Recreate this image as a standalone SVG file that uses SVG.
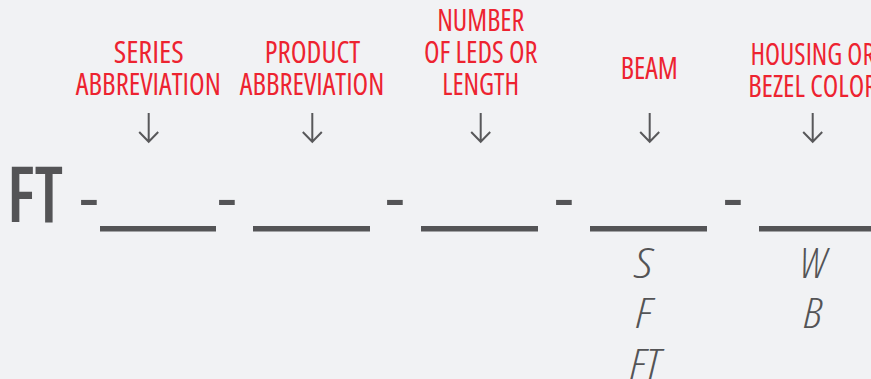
<svg xmlns="http://www.w3.org/2000/svg" width="871" height="379" viewBox="0 0 871 379">
<style>
.lbl{font-family:"Open Sans","Liberation Sans",sans-serif;font-stretch:75%;font-weight:500;font-size:30px;fill:#ed2330;text-anchor:middle}
.big{font-family:"Open Sans","Liberation Sans",sans-serif;font-stretch:75%;font-weight:600;font-size:77.7px;fill:#545456}
.dash{font-family:"Liberation Sans",Arial,sans-serif;font-size:64px;fill:#545456}
.opt{font-family:"Open Sans","Liberation Sans",sans-serif;font-stretch:75%;font-style:italic;font-weight:300;font-size:42.7px;fill:#545456;text-anchor:middle}
.blank{fill:#545456}
.arr{fill:none;stroke:#58585a;stroke-width:2}
</style>
<rect width="871" height="379" fill="#f1f2f4"/>
<g id="prefix">
<text class="big" x="7" y="222.3" textLength="56" lengthAdjust="spacingAndGlyphs">FT</text>
</g>
<g id="separators">
<text class="dash" x="78.2" y="219.7">-</text>
<text class="dash" x="216.2" y="219.7">-</text>
<text class="dash" x="384.2" y="219.7">-</text>
<text class="dash" x="553.2" y="219.7">-</text>
<text class="dash" x="722.2" y="219.7">-</text>
</g>
<g id="series">
<text class="lbl" x="148.7" y="63.3" textLength="70" lengthAdjust="spacingAndGlyphs">SERIES</text>
<text class="lbl" x="148.3" y="95" textLength="145" lengthAdjust="spacingAndGlyphs">ABBREVIATION</text>
<rect class="blank" x="100" y="226" width="116" height="5.5"/>
</g>
<g id="product">
<text class="lbl" x="312.5" y="63.3" textLength="95.5" lengthAdjust="spacingAndGlyphs">PRODUCT</text>
<text class="lbl" x="312" y="95" textLength="144.5" lengthAdjust="spacingAndGlyphs">ABBREVIATION</text>
<rect class="blank" x="253" y="226" width="117" height="5.5"/>
</g>
<g id="length">
<text class="lbl" x="480.7" y="31" textLength="87" lengthAdjust="spacingAndGlyphs">NUMBER</text>
<text class="lbl" x="480.8" y="63" textLength="113.5" lengthAdjust="spacingAndGlyphs">OF LEDS OR</text>
<text class="lbl" x="480.7" y="95" textLength="77" lengthAdjust="spacingAndGlyphs">LENGTH</text>
<rect class="blank" x="421" y="226" width="117" height="5.5"/>
</g>
<g id="beam">
<text class="lbl" x="649.3" y="79" textLength="57" lengthAdjust="spacingAndGlyphs">BEAM</text>
<rect class="blank" x="590" y="226" width="117" height="5.5"/>
<text class="opt" x="644" y="278.3" textLength="18" lengthAdjust="spacingAndGlyphs">S</text>
<text class="opt" x="644" y="328.3" textLength="16" lengthAdjust="spacingAndGlyphs">F</text>
<text class="opt" x="645.5" y="378.8" textLength="30.5" lengthAdjust="spacingAndGlyphs">FT</text>
</g>
<g id="color">
<text class="lbl" x="812.7" y="65" textLength="124.5" lengthAdjust="spacingAndGlyphs">HOUSING OR</text>
<text class="lbl" x="812.7" y="97.3" textLength="129" lengthAdjust="spacingAndGlyphs">BEZEL COLOR</text>
<rect class="blank" x="759" y="226" width="120" height="5.5"/>
<text class="opt" x="813.5" y="278.3" textLength="26.5" lengthAdjust="spacingAndGlyphs">W</text>
<text class="opt" x="813" y="328.3" textLength="18.5" lengthAdjust="spacingAndGlyphs">B</text>
</g>
<g id="connectors">
<path class="arr" d="M148.7 113V141.5M139.2 132L148.7 141.7L158.2 132"/>
<path class="arr" d="M312.3 113V141.5M302.8 132L312.3 141.7L321.8 132"/>
<path class="arr" d="M480.7 113V141.5M471.2 132L480.7 141.7L490.2 132"/>
<path class="arr" d="M649.7 113V141.5M640.2 132L649.7 141.7L659.2 132"/>
<path class="arr" d="M812.7 113V141.5M803.2 132L812.7 141.7L822.2 132"/>
</g>
</svg>
